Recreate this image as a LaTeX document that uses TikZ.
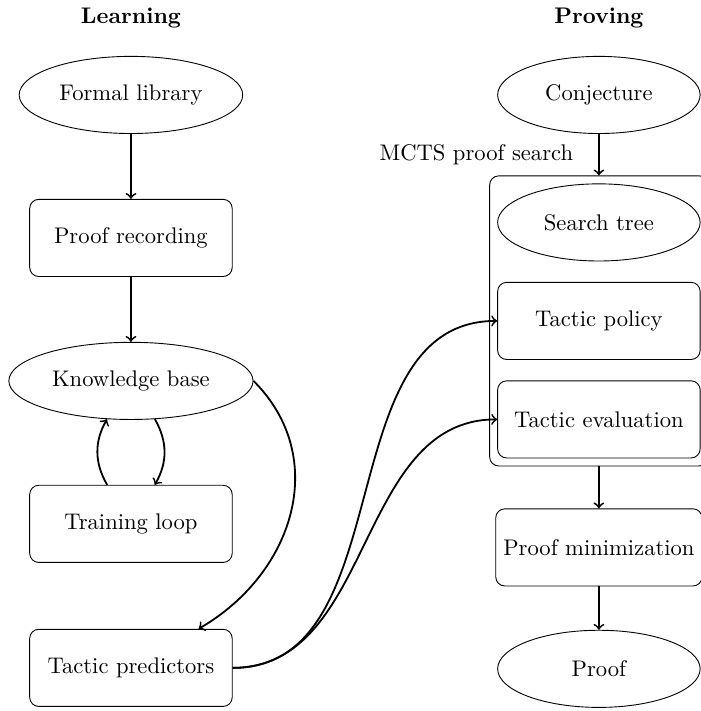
\documentclass[tikz,border=0pt]{standalone}
\usetikzlibrary{shapes.geometric,fit,positioning}
\tikzset{
    block/.style={draw, rounded corners, minimum width=3.15cm, minimum height=1.2cm},
    blob/.style={draw, ellipse, minimum width=3.15cm, minimum height=1.2cm},
    flow/.style={->, thick}
}
\begin{document}
\begin{tikzpicture}
    % Fix the page size
    \useasboundingbox (0,0) rectangle (10.90,-11.06);

    % Column titles
    \node (learning) at (2.037,-0.28) {\textbf{Learning}};
    \node (proving) at (9.316,-0.28) {\textbf{Proving}};

    % Learning column
    \node[blob] (library) at (2.037,-1.477) {Formal library};
    \node[block] (recording) at (2.037,-3.701) {Proof recording};
    \node[blob] (knowledge) at (2.037,-5.925) {Knowledge base};
    \node[block] (training) at (2.037,-8.149) {Training loop};
    \node[block] (predictors) at (2.037,-10.389) {Tactic predictors};

    % Proving column
    \node[blob] (conjecture) at (9.316,-1.477) {Conjecture};
    \node[blob] (tree) at (9.316,-3.460) {Search tree};
    \node[block] (policy) at (9.316,-4.992) {Tactic policy};
    \node[block] (evaluation) at (9.316,-6.524) {Tactic evaluation};
    \node[draw, rounded corners, fit=(tree)(evaluation)] (mcts) {};
    \node[block] (minimization) at (9.316,-8.515) {Proof minimization};
    \node[blob] (proof) at (9.316,-10.404) {Proof};

    % Arrows on the left
    \draw[flow] (library) -- (recording);
    \draw[flow] (recording) -- (knowledge);
    \draw[flow] ([xshift=-0.37cm]training.north) to[bend left] (knowledge.238);
    \draw[flow] (knowledge.302) to[bend left] ([xshift=0.37cm]training.north);
    \draw[flow] (knowledge.east) to[out=-45, in=30, looseness=1.1] (predictors.30);

    % Arrows on the right
    \draw[flow] (conjecture) -- (mcts) node[midway, left=0.27cm] (searchlabel) {MCTS proof search};
    \draw[flow] (mcts) -- (minimization);
    \draw[flow] (minimization) -- (proof);

    % From the predictors into the search
    \draw[flow] (predictors.east) to[out=0, in=180] (policy.west);
    \draw[flow] (predictors.east) to[out=0, in=180] (evaluation.west);
\end{tikzpicture}
\end{document}
